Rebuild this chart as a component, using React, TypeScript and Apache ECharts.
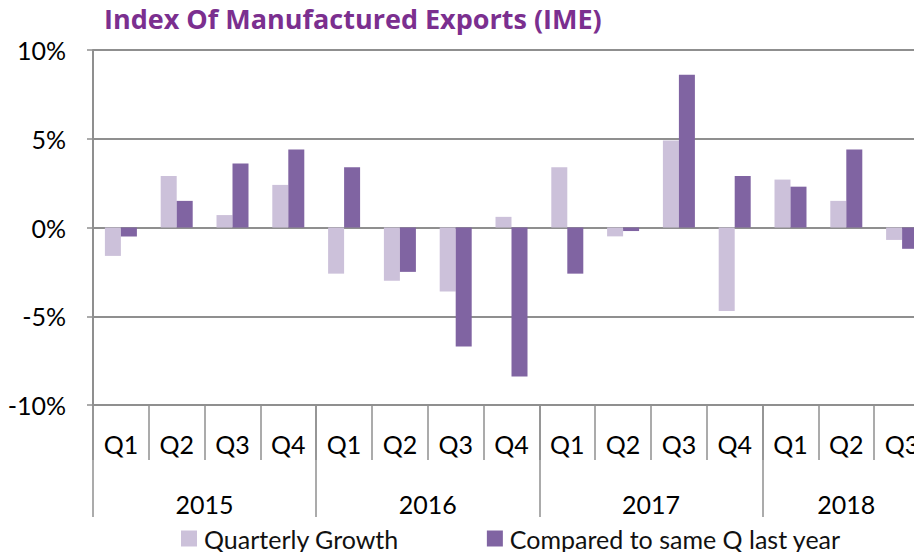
import React, { useEffect, useRef } from "react";
import * as echarts from "echarts";

const quarters = ["Q1", "Q2", "Q3", "Q4", "Q1", "Q2", "Q3", "Q4", "Q1", "Q2", "Q3", "Q4", "Q1", "Q2", "Q3"];
const years = ["2015", "2016", "2017", "2018"];
const quartersPerYear = [4, 4, 4, 3];
const quarterlyGrowth = [-1.6, 2.9, 0.7, 2.4, -2.6, -3.0, -3.6, 0.6, 3.4, -0.5, 4.9, -4.7, 2.7, 1.5, -0.7];
const sameQLastYear = [-0.5, 1.5, 3.6, 4.4, 3.4, -2.5, -6.7, -8.4, -2.6, -0.2, 8.6, 2.9, 2.3, 4.4, -1.2];
const yTicks = { min: -10, max: 10, interval: 5 };

const FONT = "Lato, 'Noto Sans', sans-serif";
const TITLE_FONT = "'Open Sans', Lato, sans-serif";
const GRAY = "#8f8f8f";

export default function App() {
  const ref = useRef<HTMLDivElement>(null);
  useEffect(() => {
    if (!ref.current) return;
    const chart = echarts.init(ref.current, undefined, { renderer: "svg" });

    const yearStarts: number[] = [];
    const yearCenters: number[] = [];
    let acc = 0;
    quartersPerYear.forEach((n) => {
      yearStarts.push(acc);
      yearCenters.push(acc + n / 2);
      acc += n;
    });

    chart.setOption({
      animation: false,
      textStyle: { fontFamily: FONT },
      title: {
        text: "Index Of Manufactured Exports (IME)",
        left: 99,
        top: 0,
        textStyle: { color: "#7b2f8f", fontSize: 27, fontWeight: "bold", fontFamily: TITLE_FONT },
      },
      legend: {
        left: 176,
        top: 521,
        itemWidth: 16,
        itemHeight: 16,
        itemGap: 88,
        icon: "rect",
        textStyle: { fontSize: 25, color: "#111", fontFamily: FONT, padding: [0, 0, 0, 2] },
        data: ["Quarterly Growth", "Compared to same Q last year"],
      },
      grid: { left: 93, top: 50, width: 837, height: 355, containLabel: false, outerBoundsMode: "none" },
      xAxis: [
        {
          type: "category",
          data: quarters,
          position: "bottom",
          axisLine: { onZero: false, lineStyle: { color: GRAY, width: 2 } },
          axisTick: { show: true, interval: 0, length: 55, lineStyle: { color: GRAY, width: 1.5 } },
          axisLabel: {
            interval: 0,
            margin: 39,
            verticalAlign: "middle",
            fontSize: 25,
            color: "#000",
            fontFamily: FONT,
          },
        },
        {
          type: "value",
          position: "bottom",
          min: 0,
          max: quarters.length,
          axisLine: { show: false, onZero: false },
          splitLine: { show: false },
          axisTick: {
            show: true,
            length: 112,
            customValues: yearStarts,
            lineStyle: { color: GRAY, width: 1.5 },
          },
          axisLabel: {
            customValues: yearCenters,
            margin: 99,
            verticalAlign: "middle",
            fontSize: 25,
            color: "#000",
            fontFamily: FONT,
            formatter: (v: number) => {
              const i = yearCenters.findIndex((c) => Math.abs(c - v) < 1e-6);
              return i >= 0 ? years[i] : "";
            },
          },
        },
      ],
      yAxis: {
        type: "value",
        min: yTicks.min,
        max: yTicks.max,
        interval: yTicks.interval,
        axisLine: { show: true, onZero: false, lineStyle: { color: GRAY, width: 2 } },
        axisTick: { show: true, length: 6, lineStyle: { color: GRAY, width: 1.5 } },
        splitLine: { show: true, lineStyle: { color: GRAY, width: 2 } },
        axisLabel: {
          margin: 27,
          fontSize: 25,
          color: "#000",
          fontFamily: FONT,
          formatter: (v: number) => `${v}%`,
        },
      },
      series: [
        {
          name: "Quarterly Growth",
          type: "bar",
          xAxisIndex: 0,
          data: quarterlyGrowth,
          barWidth: 16,
          barGap: "0%",
          itemStyle: { color: "#ccc1da" },
        },
        {
          name: "Compared to same Q last year",
          type: "bar",
          xAxisIndex: 0,
          data: sameQLastYear,
          barWidth: 16,
          barGap: "0%",
          itemStyle: { color: "#8064a2" },
        },
      ],
    });
    return () => chart.dispose();
  }, []);
  return (
    <div
      ref={ref}
      style={{ position: "fixed", left: 0, top: 0, width: 914, height: 552, background: "#fff" }}
    />
  );
}
